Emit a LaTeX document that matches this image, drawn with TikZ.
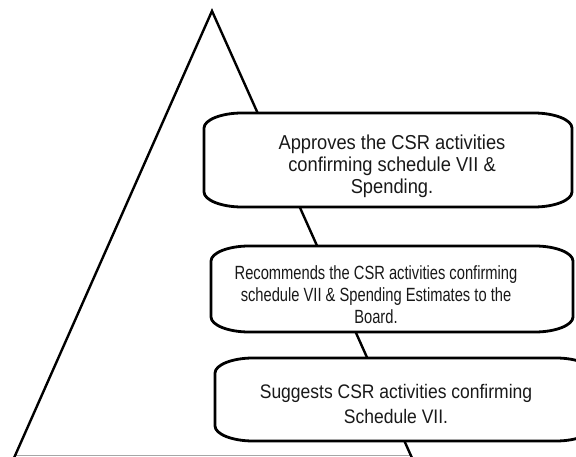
\documentclass[tikz,border=0pt]{standalone}
\usepackage{graphicx}
\usepackage{fontspec}
\setmainfont{Liberation Sans}
\newcommand\csrbox[4]{%
  \draw[boxline] (#1+38,#2) -- (#3-38,#2)
    .. controls (#3-17,#2) and (#3,#2+7) .. (#3,#2+15)
    -- (#3,#4-15)
    .. controls (#3,#4-7) and (#3-17,#4) .. (#3-38,#4)
    -- (#1+38,#4)
    .. controls (#1+17,#4) and (#1,#4-7) .. (#1,#4-15)
    -- (#1,#2+15)
    .. controls (#1,#2+7) and (#1+17,#2) .. cycle;}
% #1 font size, #2 baselineskip, #3 vertical stretch, #4 lines
\newcommand\csrtext[4]{%
  \fontsize{#1}{#2}\selectfont
  \scalebox{1}[#3]{\begin{tabular}{@{}c@{}}#4\end{tabular}}}
\begin{document}
\begin{tikzpicture}[x=1pt,y=-1pt,
  tri/.style={line width=2.4pt, line cap=round},
  boxline/.style={line width=2.8pt, fill=white, line join=round},
  lbl/.style={inner sep=0pt, text=black!90}]
\useasboundingbox (0,0) rectangle (576,457);
\clip (0,0) rectangle (576,457);
\fill[white] (0,0) rectangle (576,457);
\coordinate (apex) at (212,11);
\coordinate (bl) at (14,458);
\coordinate (br) at (412,458);
\coordinate (gl) at (14,455.5);
\coordinate (gr) at (410,455.5);
\draw[black!35, line width=1.4pt] (gl) -- (gr);
\draw[tri] (bl) -- (apex) -- (br);
% boxes
\csrbox{204}{113}{572}{207}
\csrbox{211}{246}{573}{332}
\csrbox{215}{358}{594}{441}
\node[lbl] (approve) at (392,167)
  {\csrtext{18.3}{19.7}{1.1}{Approves the CSR activities\\confirming schedule VII \&\\Spending.}};
\node[lbl] (recommend) at (376,297)
  {\csrtext{14.7}{16.7}{1.3}{Recommends the CSR activities confirming\\schedule VII \& Spending Estimates to the\\Board.}};
\node[lbl] (suggest) at (396,406)
  {\csrtext{17.5}{22.3}{1.12}{Suggests CSR activities confirming\\Schedule VII.}};
\end{tikzpicture}
\end{document}
